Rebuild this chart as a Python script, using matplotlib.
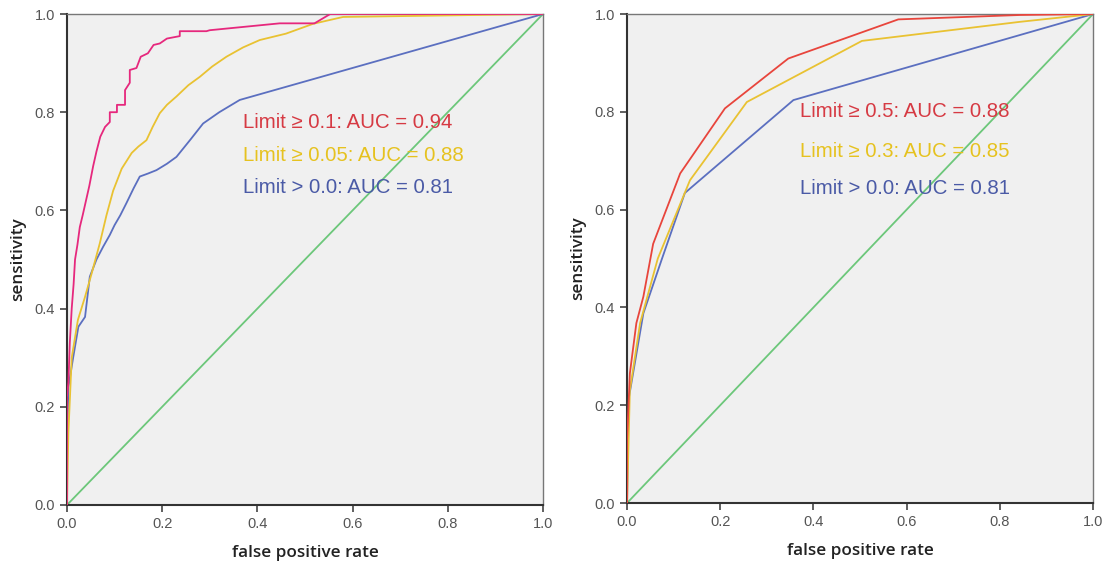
import matplotlib.pyplot as plt
import numpy as np

# left panel: ROC curves for the three limits
left_red_fpr = [0.0, 0.0, 0.003, 0.006, 0.01, 0.014, 0.017, 0.022, 0.027, 0.033, 0.04, 0.047,
                0.055, 0.062, 0.07, 0.08, 0.09, 0.09, 0.105, 0.105, 0.122, 0.122, 0.132, 0.132,
                0.146, 0.155, 0.17, 0.182, 0.195, 0.21, 0.237, 0.237, 0.293, 0.3, 0.447, 0.52,
                0.553, 1.0]
left_red_tpr = [0.0, 0.22, 0.25, 0.33, 0.40, 0.45, 0.50, 0.53, 0.566, 0.59, 0.62, 0.65,
                0.69, 0.72, 0.75, 0.77, 0.78, 0.80, 0.80, 0.815, 0.815, 0.845, 0.86, 0.886,
                0.89, 0.913, 0.92, 0.937, 0.94, 0.95, 0.955, 0.965, 0.965, 0.967, 0.981, 0.981,
                1.0, 1.0]
left_yellow_fpr = [0.0, 0.003, 0.01, 0.023, 0.038, 0.052, 0.069, 0.083, 0.097, 0.115, 0.136,
                   0.15, 0.167, 0.18, 0.195, 0.21, 0.23, 0.255, 0.279, 0.305, 0.335, 0.37, 0.405,
                   0.46, 0.517, 0.58, 1.0]
left_yellow_tpr = [0.0, 0.147, 0.30, 0.377, 0.424, 0.472, 0.533, 0.59, 0.64, 0.685, 0.717,
                   0.73, 0.743, 0.77, 0.798, 0.815, 0.832, 0.855, 0.872, 0.893, 0.913, 0.932, 0.947,
                   0.96, 0.98, 0.994, 1.0]
left_blue_fpr = [0.0, 0.0, 0.003, 0.013, 0.024, 0.038, 0.048, 0.062, 0.076, 0.09, 0.1, 0.112,
                 0.125, 0.14, 0.153, 0.17, 0.188, 0.21, 0.23, 0.26, 0.286, 0.32, 0.363, 1.0]
left_blue_tpr = [0.0, 0.12, 0.24, 0.30, 0.363, 0.383, 0.465, 0.50, 0.526, 0.55, 0.57, 0.59,
                 0.615, 0.645, 0.669, 0.675, 0.682, 0.695, 0.709, 0.745, 0.777, 0.80, 0.825, 1.0]

# right panel
right_red_fpr = [0.0, 0.0, 0.006, 0.02, 0.035, 0.056, 0.114, 0.21, 0.346, 0.582, 0.843, 1.0]
right_red_tpr = [0.0, 0.129, 0.265, 0.368, 0.422, 0.53, 0.674, 0.807, 0.909, 0.989, 0.998, 1.0]
right_yellow_fpr = [0.0, 0.006, 0.028, 0.066, 0.135, 0.257, 0.504, 0.843, 1.0]
right_yellow_tpr = [0.0, 0.23, 0.368, 0.50, 0.66, 0.82, 0.945, 0.984, 1.0]
right_blue_fpr = [0.0, 0.003, 0.035, 0.074, 0.124, 0.357, 1.0]
right_blue_tpr = [0.0, 0.21, 0.388, 0.497, 0.634, 0.824, 1.0]

left_labels = ['Limit \u2265 0.1: AUC = 0.94', 'Limit \u2265 0.05: AUC = 0.88', 'Limit > 0.0: AUC = 0.81']
right_labels = ['Limit \u2265 0.5: AUC = 0.88', 'Limit \u2265 0.3: AUC = 0.85', 'Limit > 0.0: AUC = 0.81']
ticks = [0.0, 0.2, 0.4, 0.6, 0.8, 1.0]

plt.rcParams['font.family'] = ['Liberation Sans', 'DejaVu Sans']

fig = plt.figure(figsize=(11.03, 5.65), dpi=100)
ax1 = fig.add_axes([0.0607, 0.1062, 0.4316, 0.8690])
ax2 = fig.add_axes([0.5685, 0.1097, 0.4225, 0.8655])


def style_axes(ax):
    ax.set_facecolor('#f0f0f0')
    ax.set_xlim(0, 1)
    ax.set_ylim(0, 1)
    ax.set_xticks(ticks)
    ax.set_yticks(ticks)
    ax.set_xticklabels(['{:.1f}'.format(t) for t in ticks])
    ax.set_yticklabels(['{:.1f}'.format(t) for t in ticks])
    ax.tick_params(direction='out', length=5, width=1.2, colors='#444444',
                   labelsize=10.5, labelcolor='#555555')
    for side in ['left', 'bottom']:
        ax.spines[side].set_color('#333333')
        ax.spines[side].set_linewidth(1.5)
    for side in ['top', 'right']:
        ax.spines[side].set_color('#777777')
        ax.spines[side].set_linewidth(1.0)
    ax.set_xlabel('false positive rate', fontsize=12.3, labelpad=10, color='#222222',
                  family=['Open Sans', 'DejaVu Sans'], fontweight='semibold')
    ax.set_ylabel('sensitivity', fontsize=12.3, labelpad=6, color='#222222',
                  family=['Open Sans', 'DejaVu Sans'], fontweight='semibold')
    ax.plot([0, 1], [0, 1], color='#6cc77a', lw=1.3, zorder=1)


style_axes(ax1)
style_axes(ax2)

ax1.plot(left_blue_fpr, left_blue_tpr, color='#5b6fc0', lw=1.3, zorder=2)
ax1.plot(left_yellow_fpr, left_yellow_tpr, color='#e9c232', lw=1.3, zorder=3)
ax1.plot(left_red_fpr, left_red_tpr, color='#e6287d', lw=1.3, zorder=4)

ax2.plot(right_blue_fpr, right_blue_tpr, color='#5b6fc0', lw=1.3, zorder=2)
ax2.plot(right_yellow_fpr, right_yellow_tpr, color='#e9c232', lw=1.3, zorder=3)
ax2.plot(right_red_fpr, right_red_tpr, color='#e8453c', lw=1.3, zorder=4)

text_colors = ['#d63a43', '#e6c21f', '#4a5aa6']
for label, y, c in zip(left_labels, [0.78, 0.711, 0.646], text_colors):
    ax1.text(0.37, y, label, color=c, fontsize=14.7, va='center', ha='left', zorder=5)
for label, y, c in zip(right_labels, [0.80, 0.718, 0.644], text_colors):
    ax2.text(0.371, y, label, color=c, fontsize=14.7, va='center', ha='left', zorder=5)

fig.savefig('out.png', dpi=100)
